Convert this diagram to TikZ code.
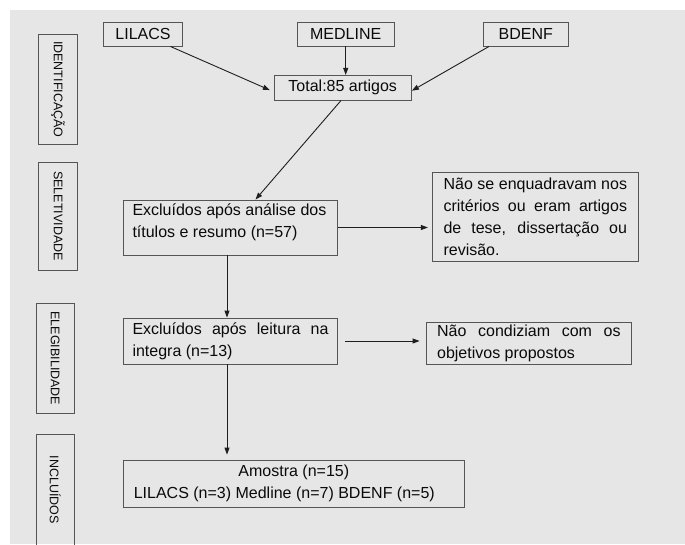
\documentclass[tikz,border=0pt]{standalone}
\usepackage{fontspec}
\setmainfont{Liberation Sans}
\usetikzlibrary{arrows.meta,positioning,calc}
\definecolor{cbg}{RGB}{230,230,230}
\definecolor{cbord}{RGB}{85,85,85}
\definecolor{cline}{RGB}{30,30,30}
\definecolor{ctxt}{RGB}{10,10,10}
\setlength{\parindent}{0pt}
\newcommand{\jline}[1]{{\spaceskip=0pt\xspaceskip=0pt\makebox[\hsize][s]{#1}}}

\begin{document}
\begin{tikzpicture}[
            x=1pt, y=-1pt,
            >={Triangle[length=7pt,width=5pt]},
            bx/.style={draw=cbord, line width=0.9pt, inner sep=0pt, text=ctxt,
                       font=\fontsize{16}{22}\selectfont},
            txt/.style={bx, align=flush left},
            phase/.style={draw=cbord, line width=0.9pt, rotate=-90, inner sep=0pt, text=ctxt,
                          minimum height=39pt, font=\fontsize{12.5}{15}\selectfont},
            arr/.style={->, draw=cline, line width=0.9pt}
          ]
          \useasboundingbox (0,0) rectangle (685,544);
          \fill[cbg] (9.6,10) rectangle (685,544);
          \node[phase, minimum width=109.3pt]                     (ident) at (58.1,89.4)  {IDENTIFICAÇÃO};
          \node[phase, minimum width=108pt]                       (selet) at (58.1,216)   {SELETIVIDADE};
          \node[phase, minimum width=110pt, minimum height=38pt]  (eleg)  at (55.3,358.3) {ELEGIBILIDADE};
          \node[phase, minimum width=112pt, minimum height=38pt]  (incl)  at (55.3,490)   {INCLUÍDOS};
          \node[bx, minimum width=79pt,    minimum height=24pt]   (lil)   at (143,34)     {LILACS};
          \node[bx, minimum width=97.5pt,  minimum height=24pt]   (med)   at (345.7,34)   {MEDLINE};
          \node[bx, minimum width=84.4pt,  minimum height=24pt]   (bd)    at (525.8,34)   {BDENF};
          \node[bx, minimum width=137.5pt, minimum height=24.7pt] (tot)   at (342.7,87.7) {Total:85 artigos};
          \node[txt, text width=196pt, minimum width=214.4pt, minimum height=55pt] (ex1) at (230.5,227.5)
               {Excluídos após análise dos\\títulos e resumo (n=57)\\[-9pt]\mbox{}};
          \node[txt, text width=183.5pt, minimum width=206pt, minimum height=89.4pt] (nse) at (535.3,217)
               {\jline{Não se enquadravam nos}\\\jline{critérios ou eram artigos}\\\jline{de tese, dissertação ou}\\revisão.};
          \node[txt, text width=196pt, minimum width=214.4pt, minimum height=46pt] (ex2) at (230.5,341)
               {\jline{Excluídos após leitura na}\\integra (n=13)};
          \node[txt, text width=183.5pt, minimum width=205.7pt, minimum height=42pt] (ncd) at (528.9,343)
               {\jline{Não condiziam com os}\\objetivos propostos};
          \node[txt, text width=320pt, minimum width=340.4pt, minimum height=47.3pt] (amo) at (293.8,483.7)
               {\makebox[\hsize]{Amostra (n=15)}\\LILACS (n=3) Medline (n=7) BDENF (n=5)};
          \draw[arr, shorten >=4pt] ([xshift=27.4pt]lil.south) -- ([yshift=-4pt]tot.west);
          \draw[arr] (med.south) -- (med.south |- tot.north);
          \draw[arr] ([xshift=-36.8pt]bd.south) -- ([yshift=-3pt]tot.east);
          \draw[arr] ([xshift=-1.7pt]tot.south) -- ([xshift=25pt]ex1.north);
          \draw[arr, shorten >=4pt] (ex1.east) -- (ex1.east -| nse.west);
          \draw[arr] ([xshift=-3.5pt]ex1.south) -- ([xshift=-3.5pt]ex1.south |- ex2.north);
          \draw[arr, shorten <=7pt, shorten >=6pt] (ex2.east) -- (ex2.east -| ncd.west);
          \draw[arr, shorten >=5pt] ([xshift=-3.5pt]ex2.south) -- ([xshift=-3.5pt]ex2.south |- amo.north);
        \end{tikzpicture}
\end{document}
